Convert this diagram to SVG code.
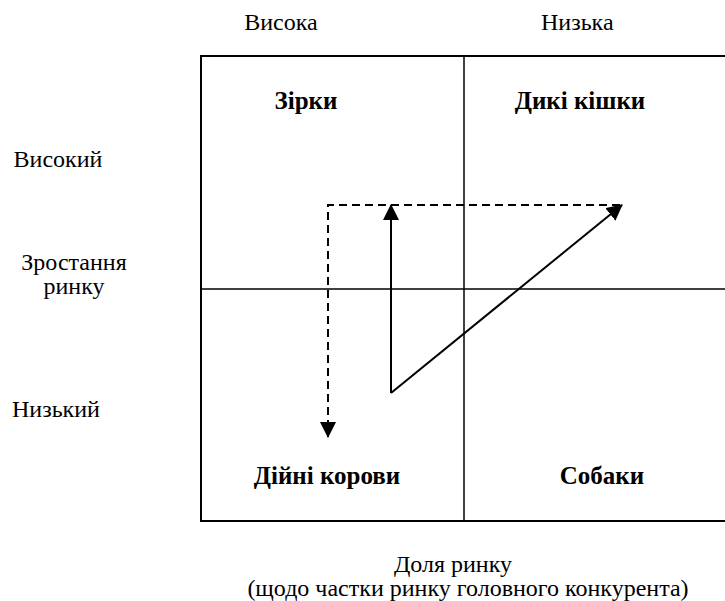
<svg xmlns="http://www.w3.org/2000/svg" width="725" height="601" viewBox="0 0 725 601">
<defs>
<marker id="ah" viewBox="0 0 16 16" refX="15" refY="8" markerWidth="16" markerHeight="16" markerUnits="userSpaceOnUse" orient="auto">
<path d="M0,0 L16,8 L0,16 Z" fill="#000"/>
</marker>
</defs>
<rect width="725" height="601" fill="#fff"/>
<g id="matrix" stroke="#000" fill="none">
<path stroke-width="2" d="M726,56 H201 V521 H726"/>
<line stroke-width="1.5" x1="464" y1="56" x2="464" y2="521"/>
<line stroke-width="1.5" x1="201" y1="289" x2="726" y2="289"/>
</g>
<g id="axis-labels">
<text x="281" y="30" font-family="serif" font-size="24" text-anchor="middle">Висока</text>
<text x="541" y="30" font-family="Liberation Serif" font-size="24">Низька</text>
<text x="58" y="167" font-family="Times New Roman" font-size="24" text-anchor="middle">Високий</text>
<text x="74" y="270" style="font-family:serif;font-size:24px" text-anchor="middle">Зростання</text>
<text x="74" y="294" style="font-family:serif;font-size:24px" text-anchor="middle">ринку</text>
<text x="12" y="417" font-family="Liberation Serif" font-size="24">Низький</text>
<text x="453" y="572" font-family="serif" font-size="24" text-anchor="middle">Доля ринку</text>
<text x="468" y="596" font-family="serif" font-size="24" text-anchor="middle">(щодо частки ринку головного конкурента)</text>
</g>
<g id="stars"><text x="306" y="109" font-family="serif" font-size="25" font-weight="bold" text-anchor="middle">Зірки</text></g>
<g id="wildcats"><text x="580" y="109" font-family="serif" font-size="25" font-weight="bold" text-anchor="middle">Дикі кішки</text></g>
<g id="cows"><text x="327" y="484" font-family="serif" font-size="25" font-weight="bold" text-anchor="middle">Дійні корови</text></g>
<g id="dogs"><text x="602" y="484" font-family="serif" font-size="25" font-weight="bold" text-anchor="middle">Собаки</text></g>
<g id="connectors" stroke="#000" fill="none" stroke-width="2">
<line x1="391" y1="393" x2="391" y2="205" marker-end="url(#ah)"/>
<line x1="391" y1="393" x2="622" y2="205" marker-end="url(#ah)"/>
<polyline stroke-dasharray="8,5" points="620,205 328,205 328,437" marker-end="url(#ah)"/>
</g>
</svg>
